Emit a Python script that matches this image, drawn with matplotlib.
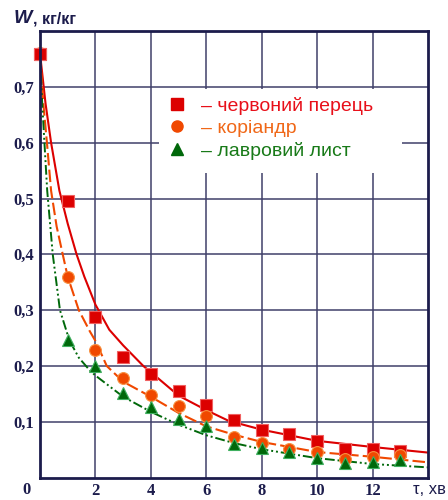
import matplotlib
matplotlib.use("Agg")
import matplotlib.pyplot as plt
from matplotlib.lines import Line2D
from matplotlib.patches import Rectangle

# measured moisture content, kg/kg, vs drying time, min
tau = [0, 1, 2, 3, 4, 5, 6, 7, 8, 9, 10, 11, 12, 13]
w_pepper = [0.758, 0.496, 0.288, 0.216, 0.186, 0.155, 0.130, 0.103, 0.086, 0.079, 0.066, 0.051, 0.051, 0.048]
w_coriander = [0.760, 0.359, 0.229, 0.178, 0.148, 0.128, 0.110, 0.072, 0.0625, 0.051, 0.0465, 0.033, 0.0375, 0.0405]
tau_laurel = [1, 2, 3, 4, 5, 6, 7, 8, 9, 10, 11, 12, 13]
w_laurel = [0.247, 0.200, 0.151, 0.126, 0.106, 0.093, 0.060, 0.0525, 0.0465, 0.0345, 0.027, 0.0275, 0.0315]

# approximating curves
fit_tau_pepper = [0, 0.2, 0.4, 0.7, 1.0, 1.32, 1.6, 2.0, 2.5, 3.0, 3.73, 4.0, 5.0, 6.0, 6.8, 8.0, 10.0, 12.0, 14.0]
fit_w_pepper = [0.76, 0.67, 0.60, 0.514, 0.455, 0.40, 0.36, 0.31, 0.265, 0.237, 0.20, 0.189, 0.147, 0.121, 0.102, 0.086, 0.066, 0.055, 0.045]
fit_tau_coriander = [0, 0.12, 0.25, 0.4, 0.6, 0.82, 1.0, 1.4, 1.8, 2.0, 2.41, 3.0, 4.0, 5.0, 6.0, 7.0, 8.0, 10.0, 12.0, 14.0]
fit_w_coriander = [0.76, 0.67, 0.60, 0.514, 0.45, 0.40, 0.36, 0.30, 0.262, 0.245, 0.20, 0.172, 0.145, 0.116, 0.092, 0.077, 0.064, 0.046, 0.0375, 0.0275]
fit_tau_laurel = [0, 0.08, 0.16, 0.26, 0.46, 0.72, 1.06, 1.4, 1.8, 2.0, 3.0, 4.0, 5.0, 6.0, 7.0, 8.0, 10.0, 12.0, 14.0]
fit_w_laurel = [0.76, 0.67, 0.60, 0.514, 0.40, 0.30, 0.246, 0.215, 0.192, 0.183, 0.145, 0.118, 0.095, 0.076, 0.062, 0.051, 0.035, 0.0245, 0.0185]

labels = ["– червоний перець", "– коріандр", "– лавровий лист"]

NAVY = "#1c1c4c"
GRID = "#40406a"
RED = "#dc0000"
ORANGE = "#f04800"
GREEN = "#00680a"

fig = plt.figure(figsize=(4.48, 5.0), dpi=100)
ax = fig.add_axes([40 / 448, 1 - 477.7 / 500, 388 / 448, 446.7 / 500])

ax.set_xlim(0, 14)
ax.set_ylim(0, 0.8)
ax.set_xticks([2, 4, 6, 8, 10, 12])
ax.set_yticks([0.1, 0.2, 0.3, 0.4, 0.5, 0.6, 0.7])
ax.set_yticklabels(["0,1", "0,2", "0,3", "0,4", "0,5", "0,6", "0,7"])
ax.tick_params(length=0, labelsize=12, colors=NAVY, pad=4)
for lab in ax.get_xticklabels() + ax.get_yticklabels():
    lab.set_family("Liberation Serif")
    lab.set_fontweight("bold")
ax.grid(True, color=GRID, linewidth=1.1, zorder=0)
ax.set_axisbelow(True)
for sp in ax.spines.values():
    sp.set_color(NAVY)
    sp.set_linewidth(2.0)
    sp.set_zorder(6)

# blank area behind the legend
ax.add_patch(Rectangle((4.3, 0.546), 8.77, 0.151, facecolor="white", edgecolor="none", zorder=1))

ax.plot(fit_tau_pepper, fit_w_pepper, color=RED, lw=1.5, zorder=3)
ax.plot(fit_tau_coriander, fit_w_coriander, color=ORANGE, lw=1.5, ls=(0, (6, 2)), zorder=3)
ax.plot(fit_tau_laurel, fit_w_laurel, color=GREEN, lw=1.4, ls=(0, (5, 1.5, 1, 1.5, 1, 1.5)), zorder=3)

ax.plot(tau, w_pepper, "s", color=RED, ms=9, mec="#f06060", mew=0.8, zorder=4, clip_on=False)
ax.plot(tau, w_coriander, "o", color=ORANGE, ms=8.5, mec="#f89040", mew=0.8, zorder=4, clip_on=False)
ax.plot(tau_laurel, w_laurel, "^", color=GREEN, ms=8.5, mec="#40b060", mew=0.8, zorder=5, clip_on=False)
# the first pepper point sits on top of the others at tau = 0
ax.plot(tau[:1], w_pepper[:1], "s", color=RED, ms=9, mec="#f06060", mew=0.8, zorder=6, clip_on=False)

handles = [
    Line2D([], [], marker="s", color=RED, ls="none", ms=8),
    Line2D([], [], marker="o", color=ORANGE, ls="none", ms=8),
    Line2D([], [], marker="^", color=GREEN, ls="none", ms=8),
]
leg = ax.legend(handles, labels, loc="upper left", bbox_to_anchor=(0.283, 0.891),
                frameon=False, handlelength=1.0, handletextpad=0.75, labelspacing=0.23,
                prop={"family": "Liberation Sans", "size": 14},
                labelcolor=["#e8101a", "#f06818", "#187a18"])
leg.set_zorder(7)

ax.text(-0.47, -0.008, "0", ha="center", va="top", fontsize=12, fontweight="bold",
        family="Liberation Serif", color=NAVY, clip_on=False)
fig.text(14 / 448, 1 - 23 / 500, "W", fontsize=14, fontweight="bold", style="italic",
         family="Liberation Sans", color=NAVY, va="baseline", ha="left")
fig.text(33 / 448, 1 - 23 / 500, ", кг/кг", fontsize=11.5, fontweight="bold",
         family="Liberation Sans", color=NAVY, va="baseline", ha="left")
fig.text(413 / 448, 1 - 490 / 500, "τ, хв", fontsize=12, family="Liberation Sans",
         color=NAVY, va="center", ha="left")

fig.savefig("out.png", dpi=100)
